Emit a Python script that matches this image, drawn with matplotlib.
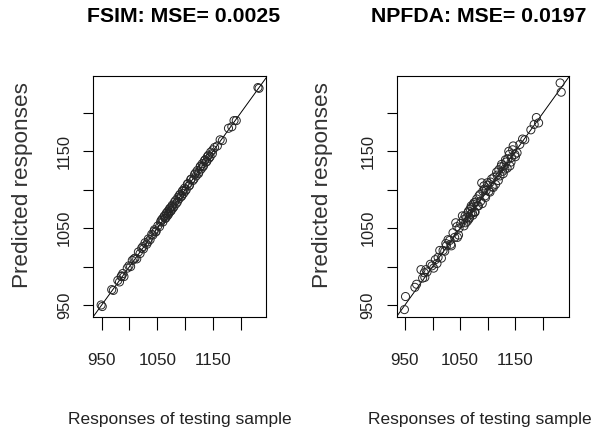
import matplotlib.pyplot as plt

# responses of the testing sample (shared by both panels)
responses = [949, 951, 968, 971, 979, 982, 985, 986, 988, 990,
             996, 999, 1002, 1005, 1008, 1010, 1013, 1016, 1019, 1022,
             1024, 1025, 1028, 1031, 1033, 1034, 1037, 1040, 1042, 1044,
             1045, 1047, 1048, 1051, 1054, 1056, 1057, 1059, 1060, 1062,
             1063, 1064, 1065, 1066, 1067, 1068, 1069, 1070, 1071, 1072,
             1073, 1074, 1075, 1076, 1077, 1078, 1080, 1081, 1083, 1084,
             1086, 1087, 1089, 1090, 1091, 1093, 1094, 1095, 1096, 1097,
             1099, 1100, 1102, 1104, 1105, 1107, 1108, 1110, 1111, 1114,
             1116, 1117, 1119, 1120, 1122, 1124, 1125, 1127, 1128, 1129,
             1131, 1132, 1133, 1135, 1136, 1138, 1139, 1140, 1142, 1143,
             1145, 1146, 1149, 1150, 1153, 1158, 1163, 1167, 1178, 1184,
             1188, 1192, 1231, 1233]

# predicted responses, FSIM
pred_fsim = [950, 948, 970, 969, 982, 980, 987, 988, 991, 987,
             998, 1001, 1000, 1008, 1010, 1011, 1010, 1019, 1017, 1024,
             1026, 1023, 1031, 1029, 1032, 1036, 1035, 1042, 1041, 1046,
             1048, 1045, 1046, 1053, 1052, 1058, 1060, 1062, 1058, 1065,
             1066, 1063, 1063, 1069, 1070, 1066, 1072, 1068, 1070, 1075,
             1076, 1072, 1073, 1078, 1080, 1076, 1078, 1084, 1086, 1082,
             1084, 1090, 1088, 1093, 1094, 1091, 1092, 1098, 1099, 1095,
             1102, 1098, 1100, 1107, 1108, 1105, 1106, 1113, 1114, 1112,
             1114, 1120, 1122, 1118, 1125, 1121, 1123, 1130, 1131, 1127,
             1134, 1130, 1131, 1138, 1139, 1136, 1137, 1143, 1145, 1141,
             1143, 1149, 1147, 1152, 1155, 1157, 1165, 1164, 1180, 1182,
             1190, 1190, 1233, 1232]

# predicted responses, NPFDA
pred_npfda = [944, 961, 973, 977, 996, 985, 992, 986, 996, 993,
              1003, 1001, 998, 1009, 1004, 1012, 1021, 1011, 1021, 1020,
              1030, 1027, 1035, 1034, 1029, 1027, 1044, 1038, 1057, 1052,
              1038, 1041, 1050, 1056, 1066, 1061, 1053, 1066, 1057, 1064,
              1059, 1070, 1072, 1062, 1064, 1075, 1068, 1079, 1077, 1070,
              1067, 1081, 1083, 1071, 1071, 1084, 1088, 1079, 1079, 1092,
              1094, 1085, 1109, 1082, 1098, 1105, 1101, 1092, 1090, 1099,
              1109, 1106, 1098, 1097, 1110, 1114, 1104, 1103, 1116, 1107,
              1123, 1119, 1112, 1126, 1118, 1130, 1133, 1124, 1121, 1131,
              1127, 1139, 1136, 1128, 1140, 1150, 1146, 1131, 1136, 1142,
              1152, 1157, 1146, 1143, 1148, 1159, 1166, 1165, 1178, 1185,
              1194, 1187, 1239, 1227]

titles = ["FSIM: MSE= 0.0025", "NPFDA: MSE= 0.0197"]
tick_vals = [950, 1000, 1050, 1100, 1150, 1200]
tick_labels = ["950", "", "1050", "", "1150", ""]

font = ['Liberation Sans', 'DejaVu Sans']

fig = plt.figure(figsize=(5.91, 4.37), dpi=100)
ax1 = fig.add_axes([0.1574, 0.2757, 0.2927, 0.5503])
ax2 = fig.add_axes([0.6712, 0.2757, 0.2915, 0.5503])

panels = [
    (ax1, pred_fsim, titles[0], (934.4, 1245.5), -0.4075, 0.311, 0.5),
    (ax2, pred_npfda, titles[1], (935, 1247), -0.4306, 0.81, 0.48),
]

for ax, pred, title, xlim, ylab_x, title_x, xlab_x in panels:
    ax.scatter(responses, pred, s=34, facecolors='none',
               edgecolors='#262626', linewidths=0.7, zorder=3)
    ax.axline((950, 950), slope=1, color='black', lw=0.7)  # abline(0, 1)
    ax.set_xlim(*xlim)
    ax.set_ylim(935, 1248)

    ax.set_xticks(tick_vals)
    ax.set_xticklabels(tick_labels, family=font, fontsize=12.3,
                       color='#222222')
    ax.set_yticks(tick_vals)
    ax.set_yticklabels(tick_labels, family=font, fontsize=11.8,
                       rotation=90, va='center', color='#222222')
    ax.tick_params(axis='x', length=9.1, width=0.8, pad=17)
    ax.tick_params(axis='y', length=7.2, width=0.8, pad=7.9)
    for sp in ax.spines.values():
        sp.set_linewidth(0.8)

    ax.set_xlabel("Responses of testing sample", family=font,
                  fontsize=12.5, color='#222222', va='center')
    ax.xaxis.set_label_coords(xlab_x, -0.43)
    ax.set_ylabel("Predicted responses", family=font,
                  fontsize=16.2, color='#333333', va='center')
    ax.yaxis.set_label_coords(ylab_x, 0.545)

    fig.text(title_x, 0.963, title, family=font, fontsize=15.3,
             fontweight='bold', ha='center', va='center')

fig.savefig('out.png', dpi=100)
